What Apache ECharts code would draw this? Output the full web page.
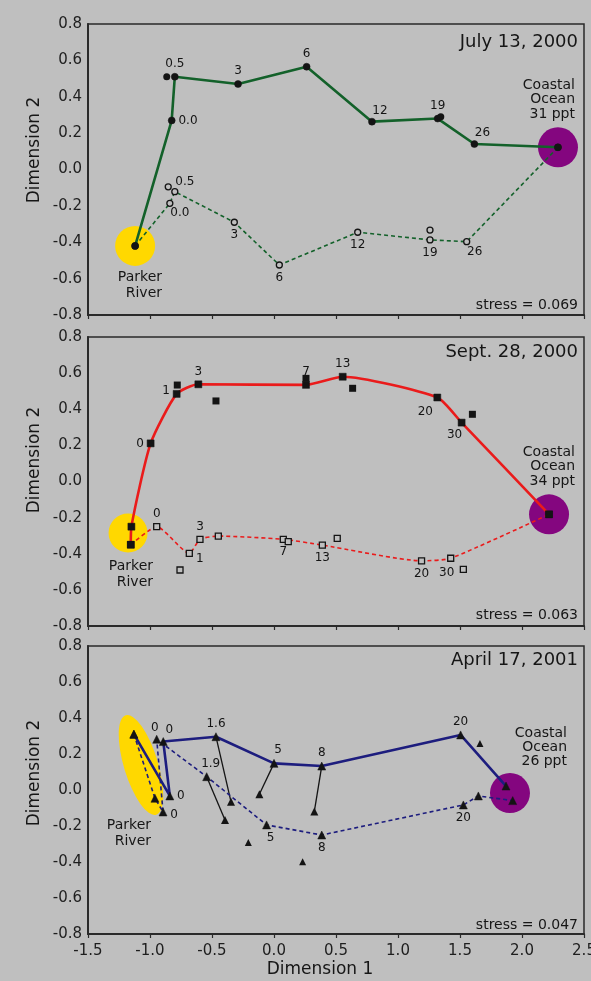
<!DOCTYPE html>
<html><head><meta charset="utf-8">
<script src="https://cdn.jsdelivr.net/npm/echarts@6/dist/echarts.min.js"></script>
<style>html,body{margin:0;padding:0;background:#bfbfbf}#c{width:591px;height:981px}</style>
</head><body><div id="c"></div><script>
// ---------- axis ticks ----------
const xTickValues = [-1.5, -1.0, -0.5, 0.0, 0.5, 1.0, 1.5, 2.0, 2.5];
const yTickValues = [-0.8, -0.6, -0.4, -0.2, 0.0, 0.2, 0.4, 0.6, 0.8];
const panelTitles = ['July 13, 2000', 'Sept. 28, 2000', 'April 17, 2001'];
const stressTexts = ['stress = 0.069', 'stress = 0.063', 'stress = 0.047'];
const oceanTexts = ['Coastal\nOcean\n31 ppt', 'Coastal\nOcean\n34 ppt', 'Coastal\nOcean\n26 ppt'];

// ---------- July 13, 2000 ----------
const julySurfX = [-1.12, -0.825, -0.80, -0.29, 0.263, 0.79, 1.32, 1.616, 2.29];
const julySurfY = [-0.42, 0.27, 0.51, 0.47, 0.565, 0.263, 0.28, 0.14, 0.122];
const julySurfLbl = ['', '0.0', '0.5', '3', '6', '12', '19', '26', ''];
const julyBotX = [-1.12, -0.84, -0.80, -0.32, 0.043, 0.675, 1.258, 1.554, 2.29];
const julyBotY = [-0.42, -0.186, -0.122, -0.29, -0.525, -0.345, -0.387, -0.397, 0.122];
const julyBotLbl = ['', '0.0', '0.5', '3', '6', '12', '19', '26', ''];
const julySurfExtraX = [-0.865, 1.345];
const julySurfExtraY = [0.51, 0.29];
const julyBotExtraX = [-0.853, 1.258];
const julyBotExtraY = [-0.095, -0.333];
const julyRiver = [-1.12, -0.42];
const julyOcean = [2.29, 0.122];

// ---------- Sept. 28, 2000 ----------
const septSurfX = [-1.155, -1.15, -0.995, -0.785, -0.61, 0.258, 0.554, 1.317, 1.513, 2.218];
const septSurfY = [-0.35, -0.25, 0.211, 0.485, 0.538, 0.535, 0.58, 0.465, 0.326, -0.182];
const septSurfLbl = ['', '', '0', '1', '3', '7', '13', '20', '30', ''];
const septBotX = [-1.155, -0.946, -0.683, -0.597, -0.449, 0.075, 0.39, 1.19, 1.425, 2.218];
const septBotY = [-0.35, -0.25, -0.398, -0.32, -0.302, -0.32, -0.352, -0.439, -0.425, -0.182];
const septBotLbl = ['', '0', '1', '3', '', '7', '13', '20', '30', ''];
const septSurfExtraX = [-0.78, -0.468, 0.258, 0.634, 1.60];
const septSurfExtraY = [0.534, 0.446, 0.571, 0.516, 0.372];
const septBotExtraX = [-0.758, 0.115, 0.51, 1.527];
const septBotExtraY = [-0.49, -0.333, -0.315, -0.486];
const septRiver = [-1.177, -0.285];
const septOcean = [2.218, -0.182];

// ---------- April 17, 2001 ----------
const aprSurfX = [-1.13, -0.84, -0.893, -0.468, 0.0, 0.385, 1.505, 1.871];
const aprSurfY = [0.31, -0.033, 0.269, 0.296, 0.148, 0.133, 0.306, 0.022];
const aprSurfLbl = ['', '0', '0', '1.6', '5', '8', '20', ''];
const aprBotX = [-1.13, -0.96, -0.895, -0.946, -0.543, -0.06, 0.385, 1.527, 1.648, 1.925];
const aprBotY = [0.31, -0.046, -0.122, 0.282, 0.074, -0.194, -0.25, -0.083, -0.033, -0.059];
const aprBotLbl = ['', '', '0', '0', '1.9', '5', '8', '20', '', ''];
const aprLinkFromX = [-0.468, -0.543, 0.0, 0.385];
const aprLinkFromY = [0.296, 0.074, 0.148, 0.133];
const aprLinkToX = [-0.347, -0.395, -0.118, 0.325];
const aprLinkToY = [-0.065, -0.167, -0.024, -0.12];
const aprExtraX = [-0.207, 0.231, 1.661];
const aprExtraY = [-0.291, -0.398, 0.259];
const aprRiver = [-1.073, 0.139];
const aprOcean = [1.903, -0.017];

// ---------- label placement (style only) ----------
const julySurfPos = [null, ['right', [0, 0]], ['top', [0, 0]], ['top', [0, 0]], ['top', [0, 0]], ['top', [8, 2]], ['top', [0, 0]], ['top', [8, 2]], null];
const julyBotPos = [null, ['bottom', [10, -3]], ['top', [10, 3]], ['bottom', [0, 0]], ['bottom', [0, 0]], ['bottom', [0, 0]], ['bottom', [0, 0]], ['bottom', [8, -2]], null];
const septSurfPos = [null, null, ['left', [0, 0]], ['left', [0, -3]], ['top', [0, 0]], ['top', [0, 0]], ['top', [0, 0]], ['bottom', [-12, 2]], ['bottom', [-7, 0]], null];
const septBotPos = [null, ['top', [0, 0]], ['right', [0, 5]], ['top', [0, 0]], null, ['bottom', [0, 0]], ['bottom', [0, 0]], ['bottom', [0, 0]], ['bottom', [-4, 2]], null];
const aprSurfPos = [null, ['right', [0, 0]], ['top', [6, 2]], ['top', [0, 0]], ['top', [4, 0]], ['top', [0, 0]], ['top', [0, 0]], null];
const aprBotPos = [null, null, ['right', [0, 3]], ['top', [-2, 2]], ['top', [4, 0]], ['bottom', [4, 0]], ['bottom', [0, 0]], ['bottom', [0, 0]], null, null];

const FONT = 'DejaVu Sans';
const BG = '#bfbfbf';
const INK = '#141414';
const GREEN = '#13612a', RED = '#ea1b1b', BLUE = '#1d1d7e', YELLOW = '#ffd800', PURPLE = '#84067f';

function zip(xs, ys) { return xs.map((x, i) => [x, ys[i]]); }

function pathSeries(gi, xs, ys, lbls, pos, color, dashed, symbol, size, open, smooth) {
  return {
    type: 'line', xAxisIndex: gi, yAxisIndex: gi, z: 3,
    smooth: smooth || false,
    symbol: symbol, symbolSize: size, showAllSymbol: true,
    lineStyle: { color: color, width: dashed ? 1.6 : 2.6, type: dashed ? [4, 3] : 'solid' },
    itemStyle: open ? { color: BG, borderColor: INK, borderWidth: 1.3, opacity: 1 } : { color: INK, borderColor: INK, borderWidth: 0.5, opacity: 1 },
    emphasis: { disabled: true },
    data: xs.map((x, i) => ({
      value: [x, ys[i]],
      label: pos[i] ? { show: true, formatter: lbls[i], position: pos[i][0], offset: pos[i][1], distance: 3,
        fontFamily: FONT, fontSize: 12, color: INK } : { show: false }
    }))
  };
}
function pointsSeries(gi, xs, ys, symbol, size, open) {
  return {
    type: 'scatter', xAxisIndex: gi, yAxisIndex: gi, z: 4, symbol: symbol, symbolSize: size,
    itemStyle: open ? { color: BG, borderColor: INK, borderWidth: 1.3, opacity: 1 } : { color: INK, opacity: 1 },
    emphasis: { disabled: true },
    data: zip(xs, ys)
  };
}
function spotSeries(gi, pt, color, size, rot) {
  return {
    type: 'scatter', xAxisIndex: gi, yAxisIndex: gi, z: 1, symbol: 'circle', symbolSize: size,
    symbolRotate: rot || 0, itemStyle: { color: color, opacity: 1 }, emphasis: { disabled: true },
    data: [pt]
  };
}

const series = [
  spotSeries(0, julyRiver, YELLOW, 40), spotSeries(0, julyOcean, PURPLE, 40),
  pathSeries(0, julyBotX, julyBotY, julyBotLbl, julyBotPos, GREEN, true, 'circle', 6, true),
  pathSeries(0, julySurfX, julySurfY, julySurfLbl, julySurfPos, GREEN, false, 'circle', 7, false),
  pointsSeries(0, julySurfExtraX, julySurfExtraY, 'circle', 7, false),
  pointsSeries(0, julyBotExtraX, julyBotExtraY, 'circle', 6, true),

  spotSeries(1, septRiver, YELLOW, 39), spotSeries(1, septOcean, PURPLE, 40),
  pathSeries(1, septBotX, septBotY, septBotLbl, septBotPos, RED, true, 'rect', 6, true, 0.2),
  pathSeries(1, septSurfX, septSurfY, septSurfLbl, septSurfPos, RED, false, 'rect', 7, false, 0.2),
  pointsSeries(1, septSurfExtraX, septSurfExtraY, 'rect', 7, false),
  pointsSeries(1, septBotExtraX, septBotExtraY, 'rect', 6, true),

  spotSeries(2, aprRiver, YELLOW, [34, 104], 17), spotSeries(2, aprOcean, PURPLE, 40),
  pathSeries(2, aprBotX, aprBotY, aprBotLbl, aprBotPos, BLUE, true, 'triangle', 8, false),
  pathSeries(2, aprSurfX, aprSurfY, aprSurfLbl, aprSurfPos, BLUE, false, 'triangle', 8, false),
  pointsSeries(2, aprExtraX, aprExtraY, 'triangle', 7, false),
  pointsSeries(2, aprLinkToX, aprLinkToY, 'triangle', 8, false)
];
aprLinkFromX.forEach((x, i) => {
  series.push({
    type: 'line', xAxisIndex: 2, yAxisIndex: 2, z: 2, symbol: 'none',
    lineStyle: { color: INK, width: 1.3 }, emphasis: { disabled: true },
    data: [[x, aprLinkFromY[i]], [aprLinkToX[i], aprLinkToY[i]]]
  });
});

const gridTops = [24, 337, 646];
const gridHeights = [291, 289, 288];
const grids = gridTops.map((t, i) => ({ left: 88, right: 7, top: t, height: gridHeights[i], show: true,
  outerBoundsMode: 'none', containLabel: false,
  borderColor: '#2a2a2a', borderWidth: 1.5, backgroundColor: 'transparent' }));
const xAxes = [0, 1, 2].map(i => ({
  type: 'value', gridIndex: i, min: xTickValues[0], max: xTickValues[xTickValues.length - 1], interval: 0.5,
  axisLine: { show: true, onZero: false, lineStyle: { color: '#2a2a2a', width: 2 } },
  axisTick: { show: true, inside: false, length: 4, lineStyle: { color: '#2a2a2a', width: 1.2 } },
  axisLabel: { show: i === 2, fontFamily: FONT, fontSize: 15, color: '#1e1e1e', margin: 10,
    formatter: v => v.toFixed(1) },
  splitLine: { show: false }
}));
const yAxes = [0, 1, 2].map(i => ({
  type: 'value', gridIndex: i, min: yTickValues[0], max: yTickValues[yTickValues.length - 1], interval: 0.2,
  axisLine: { show: true, onZero: false, lineStyle: { color: '#2a2a2a', width: 2 } },
  axisTick: { show: false },
  axisLabel: { fontFamily: FONT, fontSize: 15, color: '#1e1e1e', margin: 6, formatter: v => v.toFixed(1) },
  splitLine: { show: false }
}));

function txt(x, y, text, size, align, vAlign, lh, rot) {
  return { type: 'text', x: x, y: y, rotation: rot || 0, z: 10, silent: true,
    style: { text: text, fill: '#161616', font: size + 'px "' + FONT + '"', align: align, verticalAlign: vAlign, lineHeight: lh || size } };
}
const graphic = [];
const titleY = [42, 352, 660], stressY = [305, 615, 925];
const riverRight = [162, 153, 151], riverTop = [269, 558, 817];
const oceanRight = [575, 575, 567], oceanTop = [78, 445, 726], oceanLH = [14.5, 14.5, 14];
const dim2Y = [150, 460, 773];
for (let i = 0; i < 3; i++) {
  graphic.push(txt(578, titleY[i], panelTitles[i], 18, 'right', 'middle'));
  graphic.push(txt(578, stressY[i], stressTexts[i], 14, 'right', 'middle'));
  graphic.push(txt(riverRight[i], riverTop[i], 'Parker\nRiver', 14, 'right', 'top', 16));
  graphic.push(txt(oceanRight[i], oceanTop[i], oceanTexts[i], 14, 'right', 'top', oceanLH[i]));
  graphic.push(txt(35, dim2Y[i], 'Dimension 2', 17, 'center', 'middle', 17, Math.PI / 2));
}
graphic.push(txt(320, 970, 'Dimension 1', 17, 'center', 'middle'));

const chart = echarts.init(document.getElementById('c'), null, { renderer: 'canvas' });
chart.setOption({
  backgroundColor: BG, animation: false,
  grid: grids, xAxis: xAxes, yAxis: yAxes, series: series, graphic: graphic
});
</script></body></html>
